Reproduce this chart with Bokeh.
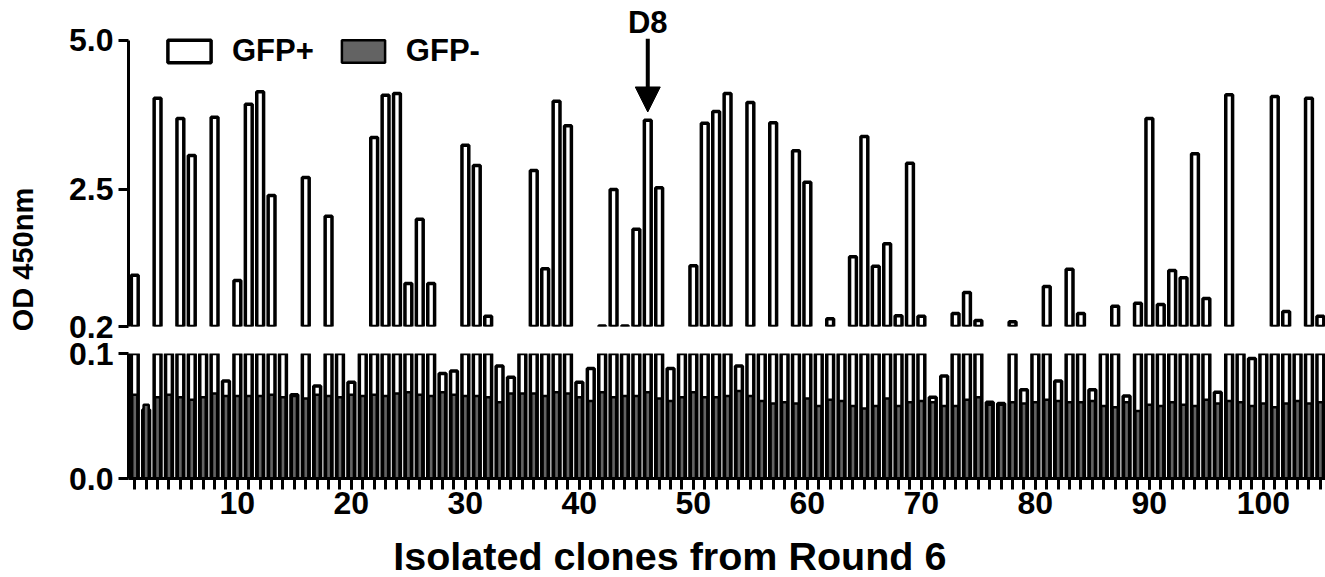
import math
from bokeh.plotting import figure
from bokeh.models import (Range1d, FixedTicker, CustomJSTickFormatter, Legend, LegendItem,
                          Label, Arrow, NormalHead, ColumnDataSource, CDSView, BooleanFilter)
from bokeh.core.properties import value
from bokeh.layouts import column, row
from bokeh.embed import file_html
from bokeh.resources import INLINE

# ---------------- data ----------------
clones = list(range(1, 106))

gfp_pos = [
    1.06, 0.055, 4.03, 0.15, 3.69, 3.07, 0.14, 3.71, 0.078, 0.97,      # 1-10
    3.93, 4.14, 2.40, 0.16, 0.067, 2.70, 0.074, 2.05, 0.13, 0.077,    # 11-20
    0.15, 3.37, 4.08, 4.11, 0.92, 2.00, 0.92, 0.084, 0.086, 3.24,     # 21-30
    2.90, 0.37, 0.090, 0.081, 0.14, 2.82, 1.17, 3.98, 3.57, 0.077,    # 31-40
    0.088, 0.21, 2.50, 0.21, 1.83, 3.66, 2.53, 0.088, 0.15, 1.22,     # 41-50
    3.61, 3.81, 4.11, 0.090, 3.96, 0.13, 3.62, 0.16, 3.15, 2.62,      # 51-60
    0.14, 0.33, 0.15, 1.37, 3.39, 1.21, 1.59, 0.38, 2.94, 0.37,       # 61-70
    0.065, 0.082, 0.42, 0.77, 0.30, 0.061, 0.060, 0.28, 0.071, 0.14,  # 71-80
    0.87, 0.078, 1.16, 0.42, 0.071, 0.15, 0.54, 0.066, 0.59, 3.69,    # 81-90
    0.57, 1.14, 1.02, 3.10, 0.67, 0.069, 4.09, 0.13, 0.096, 0.16,     # 91-100
    4.06, 0.45, 0.14, 4.03, 0.37,                                     # 101-105
]

gfp_neg = [
    0.067, 0.059, 0.065, 0.067, 0.065, 0.063, 0.065, 0.068, 0.066, 0.066,
    0.066, 0.066, 0.067, 0.065, 0.066, 0.064, 0.067, 0.066, 0.065, 0.067,
    0.066, 0.067, 0.066, 0.068, 0.069, 0.067, 0.066, 0.069, 0.067, 0.066,
    0.066, 0.065, 0.061, 0.068, 0.068, 0.068, 0.066, 0.069, 0.068, 0.065,
    0.062, 0.069, 0.065, 0.066, 0.066, 0.069, 0.064, 0.062, 0.065, 0.069,
    0.065, 0.065, 0.066, 0.070, 0.066, 0.062, 0.060, 0.061, 0.060, 0.064,
    0.058, 0.063, 0.062, 0.058, 0.056, 0.058, 0.064, 0.058, 0.061, 0.062,
    0.061, 0.058, 0.058, 0.063, 0.065, 0.059, 0.059, 0.061, 0.060, 0.061,
    0.063, 0.062, 0.061, 0.061, 0.062, 0.058, 0.057, 0.061, 0.054, 0.059,
    0.058, 0.061, 0.059, 0.058, 0.063, 0.060, 0.062, 0.061, 0.058, 0.060,
    0.057, 0.060, 0.062, 0.060, 0.061,
]

series_names = ["GFP+", "GFP-"]
x_tick_labels = [10, 20, 30, 40, 50, 60, 70, 80, 90, 100]
upper_ticks = [0.2, 2.5, 5.0]
lower_ticks = [0.0, 0.1]
highlight_clone = 46
highlight_label = "D8"
x_title = "Isolated clones from Round 6"
y_title = "OD 450nm"

# ---------------- layout constants ----------------
FONT = "Liberation Sans"
GRAY = "#636363"
TICK_FS = "32px"
BREAK_LOW, BREAK_HIGH = 0.1, 0.2

H = 577
YLAB_W = 118                 # strip holding the y title and y tick labels
MAIN_W = 1325 - YLAB_W
LEFT = 10                    # tick length; axis line at x = 128

TOP_H, TOP_BOTTOM = 340, 14  # upper panel canvas; frame spans 0..326
UP_MAX = 5.671
BOT_H, BOT_TOP, BOT_BOTTOM = 188, 13, 50   # lower panel canvas (340..528)
XT_H = H - TOP_H - BOT_H

src = ColumnDataSource(dict(x=clones, pos=gfp_pos, neg=gfp_neg))
upper_view = CDSView(filter=BooleanFilter([v >= BREAK_HIGH for v in gfp_pos]))
x_range = Range1d(0.45, 105.45)
blank = CustomJSTickFormatter(code="return ''")


def style_y(ax, ticks):
    ax.ticker = FixedTicker(ticks=ticks)
    ax.formatter = blank
    ax.axis_line_width = 3
    ax.major_tick_line_width = 3
    ax.major_tick_out = 10
    ax.major_tick_in = 0
    ax.minor_tick_line_color = None
    ax.major_label_standoff = 0


# ---- upper panel (frame reaches the top of the canvas) ----
top = figure(width=MAIN_W, height=TOP_H, x_range=x_range, y_range=Range1d(BREAK_HIGH, UP_MAX),
             output_backend="svg", toolbar_location=None, x_axis_location=None,
             min_border_left=LEFT, min_border_right=0, min_border_top=0,
             min_border_bottom=TOP_BOTTOM)
top.outline_line_color = None
top.grid.visible = False
style_y(top.yaxis[0], upper_ticks)
top.yaxis[0].bounds = (BREAK_HIGH, 5.0)

r_neg_t = top.vbar(x="x", top="neg", bottom=0, width=0.45, source=src, view=upper_view,
                   fill_color=GRAY, line_color="black", line_width=2.5)
r_pos_t = top.vbar(x="x", top="pos", bottom=0, width=0.6, source=src, view=upper_view,
                   fill_color="white", line_color="black", line_width=3.5)

legend = Legend(items=[LegendItem(label=series_names[0], renderers=[r_pos_t]),
                       LegendItem(label=series_names[1], renderers=[r_neg_t])],
                orientation="horizontal", location=(34, 257),
                glyph_width=54, glyph_height=28, label_standoff=16, spacing=22,
                padding=0, margin=0, border_line_color=None,
                background_fill_alpha=0,
                label_text_font=FONT, label_text_font_style="bold",
                label_text_font_size="31px", label_text_color="black")
top.add_layout(legend)

top.add_layout(Arrow(end=NormalHead(size=25, fill_color="black", line_color="black"),
                     x_start=highlight_clone, y_start=5.03,
                     x_end=highlight_clone, y_end=3.80,
                     line_width=4, line_color="black"))
top.add_layout(Label(x=highlight_clone, y=5.30, text=highlight_label,
                     text_align="center", text_baseline="alphabetic",
                     text_font=FONT, text_font_style="bold", text_font_size="31px",
                     text_color="black"))

# ---- lower panel ----
bot = figure(width=MAIN_W, height=BOT_H, x_range=x_range, y_range=Range1d(0.0, BREAK_LOW),
             output_backend="svg", toolbar_location=None,
             min_border_left=LEFT, min_border_right=0, min_border_top=BOT_TOP,
             min_border_bottom=BOT_BOTTOM)
bot.outline_line_color = None
bot.grid.visible = False
style_y(bot.yaxis[0], lower_ticks)

bot.vbar(x="x", top="pos", bottom=0, width=0.6, source=src,
         fill_color="white", line_color="black", line_width=3.5)
bot.vbar(x="x", top="neg", bottom=0, width=0.45, source=src,
         fill_color=GRAY, line_color="black", line_width=2.5)

xa = bot.xaxis[0]
xa.ticker = FixedTicker(ticks=x_tick_labels, minor_ticks=clones)
xa.axis_line_width = 3
xa.major_tick_line_width = 3
xa.minor_tick_line_width = 3
xa.major_tick_out = 11
xa.minor_tick_out = 11
xa.major_tick_in = 0
xa.minor_tick_in = 0
xa.major_label_text_font = FONT
xa.major_label_text_font_style = "bold"
xa.major_label_text_font_size = TICK_FS
xa.major_label_text_color = "black"
xa.major_label_standoff = 2

# ---- x title strip ----
xt = figure(width=MAIN_W, height=XT_H, x_range=Range1d(0, MAIN_W), y_range=Range1d(0, XT_H),
            output_backend="svg", toolbar_location=None, min_border=0,
            x_axis_location=None, y_axis_location=None)
xt.outline_line_color = None
xt.grid.visible = False
xt.add_layout(Label(x=385 - YLAB_W, y=22, text=x_title, text_align="left",
                    text_baseline="middle", text_font=FONT, text_font_style="bold",
                    text_font_size="39.5px", text_color="black"))

# ---- y title + y tick-label strip (same pixel mapping as the two panels) ----
up_scale = (TOP_H - TOP_BOTTOM) / (UP_MAX - BREAK_HIGH)
lo_scale = (BOT_H - BOT_TOP - BOT_BOTTOM) / BREAK_LOW
tick_vals = upper_ticks + lower_ticks
tick_page_y = ([(UP_MAX - v) * up_scale for v in upper_ticks] +
               [TOP_H + BOT_TOP + (BREAK_LOW - v) * lo_scale for v in lower_ticks])

yl = figure(width=YLAB_W, height=H, x_range=Range1d(0, YLAB_W), y_range=Range1d(0, H),
            output_backend="svg", toolbar_location=None, min_border=0,
            x_axis_location=None, y_axis_location=None)
yl.outline_line_color = None
yl.grid.visible = False
yl.text(x=[YLAB_W - 5] * len(tick_vals), y=[H - py for py in tick_page_y],
        text=["%.1f" % v for v in tick_vals], text_align="right", text_baseline="middle",
        text_font=value(FONT), text_font_style="bold", text_font_size=TICK_FS,
        text_color="black")
yl.add_layout(Label(x=22, y=H - 259, text=y_title, angle=math.pi / 2,
                    text_align="center", text_baseline="middle", text_font=FONT,
                    text_font_style="bold", text_font_size="29px", text_color="black"))

layout = row(yl, column(top, bot, xt, spacing=0), spacing=0)
open("out.html", "w").write(file_html(layout, INLINE))
